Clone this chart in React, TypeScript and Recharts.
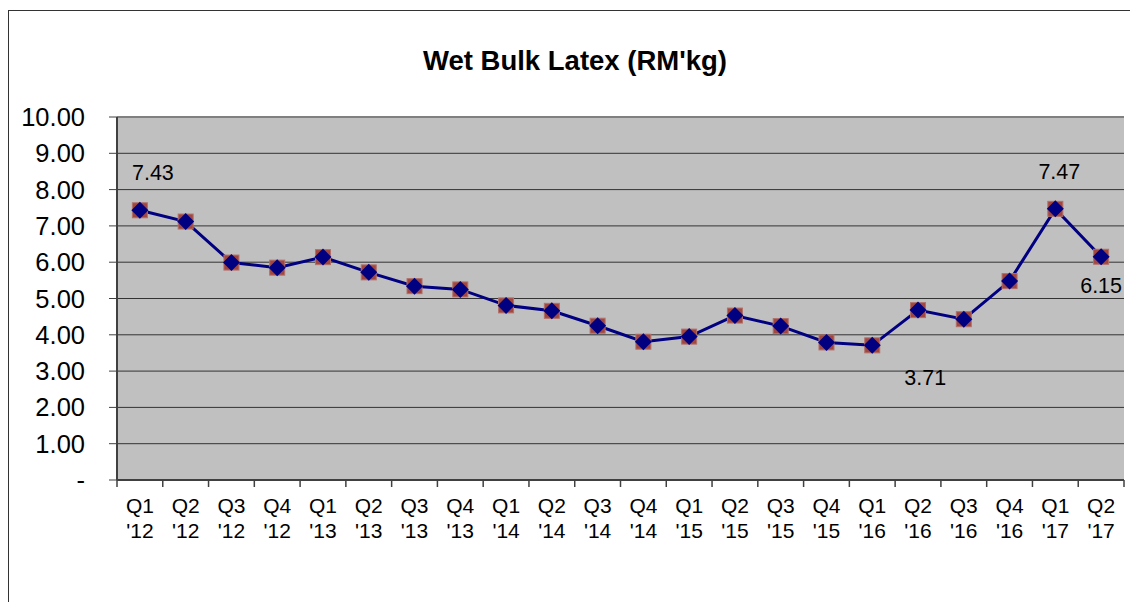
import { CartesianGrid, Line, LineChart, ReferenceLine, XAxis, YAxis } from 'recharts';

const quarters = ['Q1', 'Q2', 'Q3', 'Q4', 'Q1', 'Q2', 'Q3', 'Q4', 'Q1', 'Q2', 'Q3', 'Q4', 'Q1', 'Q2', 'Q3', 'Q4', 'Q1', 'Q2', 'Q3', 'Q4', 'Q1', 'Q2'];
const years = ["'12", "'12", "'12", "'12", "'13", "'13", "'13", "'13", "'14", "'14", "'14", "'14", "'15", "'15", "'15", "'15", "'16", "'16", "'16", "'16", "'17", "'17"];
const prices = [7.43, 7.12, 5.99, 5.85, 6.14, 5.72, 5.34, 5.25, 4.81, 4.66, 4.25, 3.81, 3.95, 4.53, 4.24, 3.79, 3.71, 4.68, 4.43, 5.48, 7.47, 6.15];
const labelledPoints = [0, 16, 20, 21];
const yTicks = [0, 1, 2, 3, 4, 5, 6, 7, 8, 9, 10];

const data = quarters.map((q, i) => ({ period: `${q} ${years[i]}`, price: prices[i] }));

const FONT = '"Liberation Sans", Arial, sans-serif';
const CHART_W = 1139;
const CHART_H = 608;
const Y_AXIS_W = 108;
const MARGIN = { top: 106, right: 24, bottom: 79, left: 0 };
const band = (CHART_W - Y_AXIS_W - MARGIN.left - MARGIN.right) / quarters.length;

// where each shown value label sits relative to its point
const labelPlacement: Record<number, { dx: number; dy: number }> = {
  0: { dx: 13, dy: -30 },
  16: { dx: 53, dy: 40 },
  20: { dx: 4, dy: -30 },
  21: { dx: 0, dy: 36 },
};

function PriceDot(props: any) {
  const { cx, cy, index, value } = props;
  const d = 8.5;
  const place = labelPlacement[index];
  return (
    <g key={`dot-${index}`}>
      <rect x={cx - 7.5} y={cy - 7.5} width={15} height={15} fill="#A2473F" stroke="#b0706a" strokeWidth={1} />
      <polygon points={`${cx},${cy - d} ${cx + d},${cy} ${cx},${cy + d} ${cx - d},${cy}`} fill="#000080" />
      {labelledPoints.includes(index) && place && (
        <text x={cx + place.dx} y={cy + place.dy} textAnchor="middle" fontSize={21.5} fontFamily={FONT} fill="#000">
          {Number(value).toFixed(2)}
        </text>
      )}
    </g>
  );
}

// Excel-style: tick marks sit between categories, labels in two lines
function PeriodTick(props: any) {
  const { x, y, index } = props;
  const left = x - band / 2;
  const right = x + band / 2;
  return (
    <g>
      <line x1={left} x2={left} y1={y} y2={y + 7} stroke="#404040" strokeWidth={1.5} />
      {index === quarters.length - 1 && <line x1={right} x2={right} y1={y} y2={y + 7} stroke="#404040" strokeWidth={1.5} />}
      <text x={x} y={y} textAnchor="middle" fontSize={21} fontFamily={FONT} fill="#000">
        <tspan x={x} dy={33}>{quarters[index]}</tspan>
        <tspan x={x} dy={25}>{years[index]}</tspan>
      </text>
    </g>
  );
}

export default function App() {
  return (
    <div style={{ position: 'fixed', inset: 0, overflow: 'hidden', background: '#fff' }}>
      <div
        style={{
          position: 'absolute',
          left: 8,
          top: 10,
          width: CHART_W,
          height: CHART_H,
          border: '1px solid #333',
        }}
      >
        <LineChart width={CHART_W} height={CHART_H} data={data} margin={MARGIN}>
          <CartesianGrid xAxisId="cat" yAxisId="v" vertical={false} fill="#C0C0C0" fillOpacity={1} stroke="#333" />
          <XAxis
            xAxisId="cat"
            dataKey="period"
            scale="band"
            interval={0}
            tickLine={false}
            axisLine={{ stroke: '#404040', strokeWidth: 2 }}
            tickSize={0}
            tickMargin={0}
            height={60}
            tick={<PeriodTick />}
          />
          <YAxis
            yAxisId="v"
            domain={[0, 10]}
            ticks={yTicks}
            width={Y_AXIS_W}
            tickSize={8}
            tickMargin={24}
            tickLine={{ stroke: '#404040' }}
            axisLine={{ stroke: '#404040', strokeWidth: 2 }}
            tick={{ fill: '#000', fontSize: 25.5, fontFamily: FONT }}
            tickFormatter={(v) => (v === 0 ? '-' : Number(v).toFixed(2))}
          />
          <YAxis
            yAxisId="r"
            orientation="right"
            domain={[0, 10]}
            width={0}
            tick={false}
            tickLine={false}
            axisLine={{ stroke: '#808080', strokeWidth: 2 }}
          />
          <ReferenceLine xAxisId="cat" yAxisId="v" y={10} stroke="#808080" strokeWidth={2} />
          <Line
            xAxisId="cat"
            yAxisId="v"
            type="linear"
            dataKey="price"
            stroke="#000080"
            strokeWidth={3}
            dot={(p: any) => <PriceDot key={`d-${p.index}`} {...p} />}
            activeDot={false}
            isAnimationActive={false}
          />
        </LineChart>
        <div
          style={{
            position: 'absolute',
            left: 266,
            top: 35,
            width: 600,
            textAlign: 'center',
            fontFamily: FONT,
            fontWeight: 'bold',
            fontSize: 27.5,
            lineHeight: '30px',
            color: '#000',
          }}
        >
          Wet Bulk Latex (RM'kg)
        </div>
      </div>
    </div>
  );
}
